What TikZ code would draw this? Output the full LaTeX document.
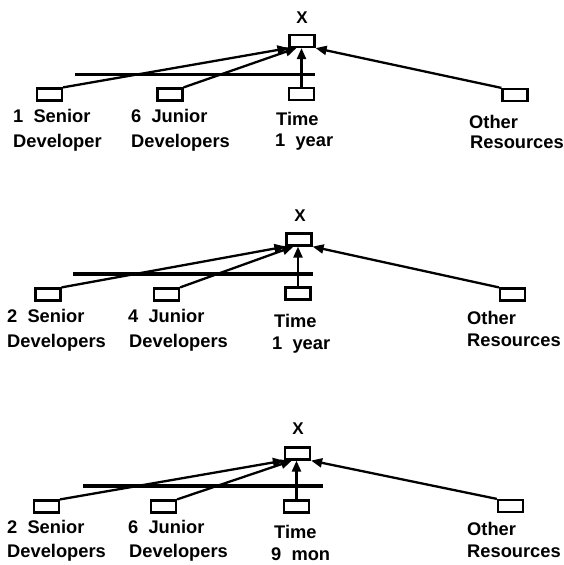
\documentclass[tikz,border=0pt]{standalone}
\usepackage{fontspec}
\setmainfont{Liberation Sans}
\usetikzlibrary{arrows.meta}

\tikzset{
  res/.style={draw, line width=2.2pt, rectangle, minimum width=25pt, minimum height=12pt, inner sep=0pt},
  lbl/.style={anchor=base west, inner sep=0pt, font=\fontsize{18.3}{20}\selectfont\bfseries},
  toplbl/.style={inner sep=0pt, font=\fontsize{17}{18}\selectfont\bfseries},
  feed/.style={line width=2.3pt, -{Triangle[length=11pt,width=9pt]}},
  bar/.style={line width=3.2pt}
}

\begin{document}
\begin{tikzpicture}[x=1pt,y=-1pt]
\useasboundingbox (0,0) rectangle (563,565);

% ---------- first alternative ----------
\node[toplbl] (xa) at (302,18) {X};
\node[res] (Xa) at (302,41) {};
\node[res] (sa) at (49.5,94.5) {};
\node[res] (ja) at (170,94.5) {};
\node[res] (ta) at (301.5,94) {};
\node[res] (oa) at (515,95) {};
\coordinate (bla) at (75,74.5);
\coordinate (bra) at (315,74.5);
\draw[bar] (bla) -- (bra);
\draw[feed] (sa.north east) -- (Xa.south west);
\draw[feed] (ja.north east) -- ([xshift=8pt]Xa.south west);
\draw[feed] (ta.north) -- (ta.north |- Xa.south);
\draw[feed] (oa.north west) -- (Xa.south east);
\node[lbl] (sa1) at (13,122) {1~~Senior};
\node[lbl] (sa2) at (13,147) {Developer};
\node[lbl] (ja1) at (131,122) {6~~Junior};
\node[lbl] (ja2) at (131,147) {Developers};
\node[lbl] (ta1) at (276,125) {Time};
\node[lbl] (ta2) at (275,146) {1~~year};
\node[lbl] (oa1) at (469,128) {Other};
\node[lbl] (oa2) at (470,148) {Resources};

% ---------- second alternative ----------
\node[toplbl] (xb) at (300,216) {X};
\node[res] (Xb) at (299,239.5) {};
\node[res] (sb) at (48,294.5) {};
\node[res] (jb) at (166.5,294.5) {};
\node[res] (tb) at (298,293.5) {};
\node[res] (ob) at (512.5,294.5) {};
\coordinate (blb) at (73,274);
\coordinate (brb) at (313,274);
\draw[bar] (blb) -- (brb);
\draw[feed] (sb.north east) -- (Xb.south west);
\draw[feed] (jb.north east) -- ([xshift=8pt]Xb.south west);
\draw[feed] (tb.north) -- (tb.north |- Xb.south);
\draw[feed] (ob.north west) -- (Xb.south east);
\node[lbl] (sb1) at (7,322) {2~~Senior};
\node[lbl] (sb2) at (7,347) {Developers};
\node[lbl] (jb1) at (128,322) {4~~Junior};
\node[lbl] (jb2) at (129,347) {Developers};
\node[lbl] (tb1) at (274,327) {Time};
\node[lbl] (tb2) at (272,349) {1~~year};
\node[lbl] (ob1) at (467,324) {Other};
\node[lbl] (ob2) at (467,346) {Resources};

% ---------- third alternative ----------
\node[toplbl] (xc) at (298,429) {X};
\node[res] (Xc) at (297.5,453.5) {};
\node[res] (sc) at (46.5,506.5) {};
\node[res] (jc) at (163.5,506.5) {};
\node[res] (tc) at (296.5,506.5) {};
\node[res] (oc) at (510.5,506) {};
\coordinate (blc) at (83,486);
\coordinate (brc) at (323,486);
\draw[bar] (blc) -- (brc);
\draw[feed] (sc.north east) -- (Xc.south west);
\draw[feed] (jc.north east) -- ([xshift=8pt]Xc.south west);
\draw[feed] (tc.north) -- (tc.north |- Xc.south);
\draw[feed] (oc.north west) -- (Xc.south east);
\node[lbl] (sc1) at (7,533) {2~~Senior};
\node[lbl] (sc2) at (7,557) {Developers};
\node[lbl] (jc1) at (128,533) {6~~Junior};
\node[lbl] (jc2) at (129,557) {Developers};
\node[lbl] (tc1) at (274,538) {Time};
\node[lbl] (tc2) at (271,560) {9~~mon};
\node[lbl] (oc1) at (467,535) {Other};
\node[lbl] (oc2) at (467,557) {Resources};
\end{tikzpicture}
\end{document}
